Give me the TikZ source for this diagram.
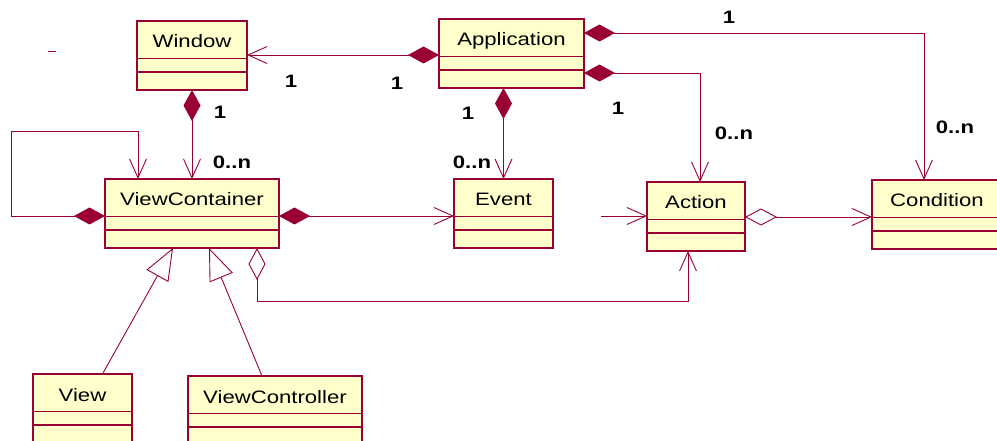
\documentclass[tikz,border=0pt]{standalone}
\usepackage{fontspec}
\setmainfont{Liberation Sans}[FakeStretch=1.23]
\usetikzlibrary{arrows.meta}

\definecolor{umlred}{RGB}{153,0,51}
\definecolor{umlfill}{RGB}{255,255,204}

\tikzset{
  umlline/.style={draw=umlred, line width=0.9pt},
  cls/.style={draw=umlred, fill=umlfill, line width=1.3pt, anchor=north west, outer sep=0pt,
    minimum height=69pt, inner ysep=0pt, text height=27pt, text depth=42pt,
    font=\fontsize{18}{20}\selectfont},
  mult/.style={font=\fontsize{18}{20}\selectfont\bfseries},
  comp/.style={umlline, {Diamond[length=31pt,width=17pt]}-{Straight Barb[length=19pt,width=17pt]}},
  agg/.style={umlline, {Diamond[open,length=32pt,width=17pt]}-{Straight Barb[length=19pt,width=17pt]}},
  assoc/.style={umlline, -{Straight Barb[length=19pt,width=17pt]}},
  gen/.style={umlline, -{Triangle[open,length=32pt,width=25pt]}}
}

\begin{document}
\begin{tikzpicture}[x=1pt,y=-1pt]
    \useasboundingbox (0,0) rectangle (997,441);
    \clip (0,0) rectangle (997,441);

    % classes
    \node[cls, minimum width=110pt] (win) at (137,21) {Window};
    \node[cls, minimum width=145pt] (app) at (439,19) {Application};
    \node[cls, minimum width=174pt] (vc) at (105,179) {ViewContainer};
    \node[cls, minimum width=99pt] (ev) at (454,179) {Event};
    \node[cls, minimum width=98pt] (act) at (647,182) {Action};
    \node[cls, minimum width=130pt] (cond) at (872,180) {Condition};
    \node[cls, minimum width=99pt] (view) at (33,374) {View};
    \node[cls, minimum width=174pt] (vctl) at (188,376) {ViewController};

    % compartments
    \foreach \c in {win,app,vc,ev,act,cond,view,vctl} {
        \draw[umlline, line width=1.2pt] ([yshift=-37.5pt]\c.north west) -- ([yshift=-37.5pt]\c.north east);
        \draw[umlline, line width=1.2pt] ([yshift=-51pt]\c.north west) -- ([yshift=-51pt]\c.north east);
    }

    \draw[umlline] (48,51) -- (56,51);

    % associations
    \draw[comp] ([yshift=-36pt]app.north west) -- ([yshift=-36pt]app.north west -| win.east);
    \draw[comp] (win.south) -- (vc.north);
    \coordinate (loop) at (11,131);
    \draw[comp] ([yshift=-37pt]vc.north west) -| (loop) -| ([xshift=33pt]vc.north west);
    \draw[comp] ([yshift=-37pt]vc.north east) -- ([yshift=-37pt]vc.north east -| ev.west);
    \draw[comp] (app.south -| ev.north) -- (ev.north);
    \draw[comp] ([yshift=-54pt]app.north east) -| ([xshift=4pt]act.north);
    \draw[comp] ([yshift=-14pt]app.north east) -| ([xshift=52pt]cond.north west);
    \coordinate (in) at (601,216);
    \draw[assoc] (in) -- (in -| act.west);
    \draw[agg] ([yshift=-35pt]act.north east) -- ([yshift=-35pt]act.north east -| cond.west);
    \draw[agg] ([xshift=65pt]vc.south) -- ++(0,53) -| ([xshift=-8pt]act.south);

    % inheritance
    \draw[gen] ([xshift=20pt]view.north) -- ([xshift=-19pt]vc.south);
    \draw[gen] ([xshift=-13pt]vctl.north) -- ([xshift=17pt]vc.south);

    % multiplicities
    \node[mult] (m1) at (291,81) {1};
    \node[mult] (m2) at (397,83) {1};
    \node[mult] (m3) at (220,112) {1};
    \node[mult] (m4) at (232,162) {0..n};
    \node[mult] (m5) at (468,113) {1};
    \node[mult] (m6) at (472,162) {0..n};
    \node[mult] (m7) at (618,108) {1};
    \node[mult] (m8) at (734,133) {0..n};
    \node[mult] (m9) at (729,17) {1};
    \node[mult] (m10) at (955,127) {0..n};
\end{tikzpicture}
\end{document}
